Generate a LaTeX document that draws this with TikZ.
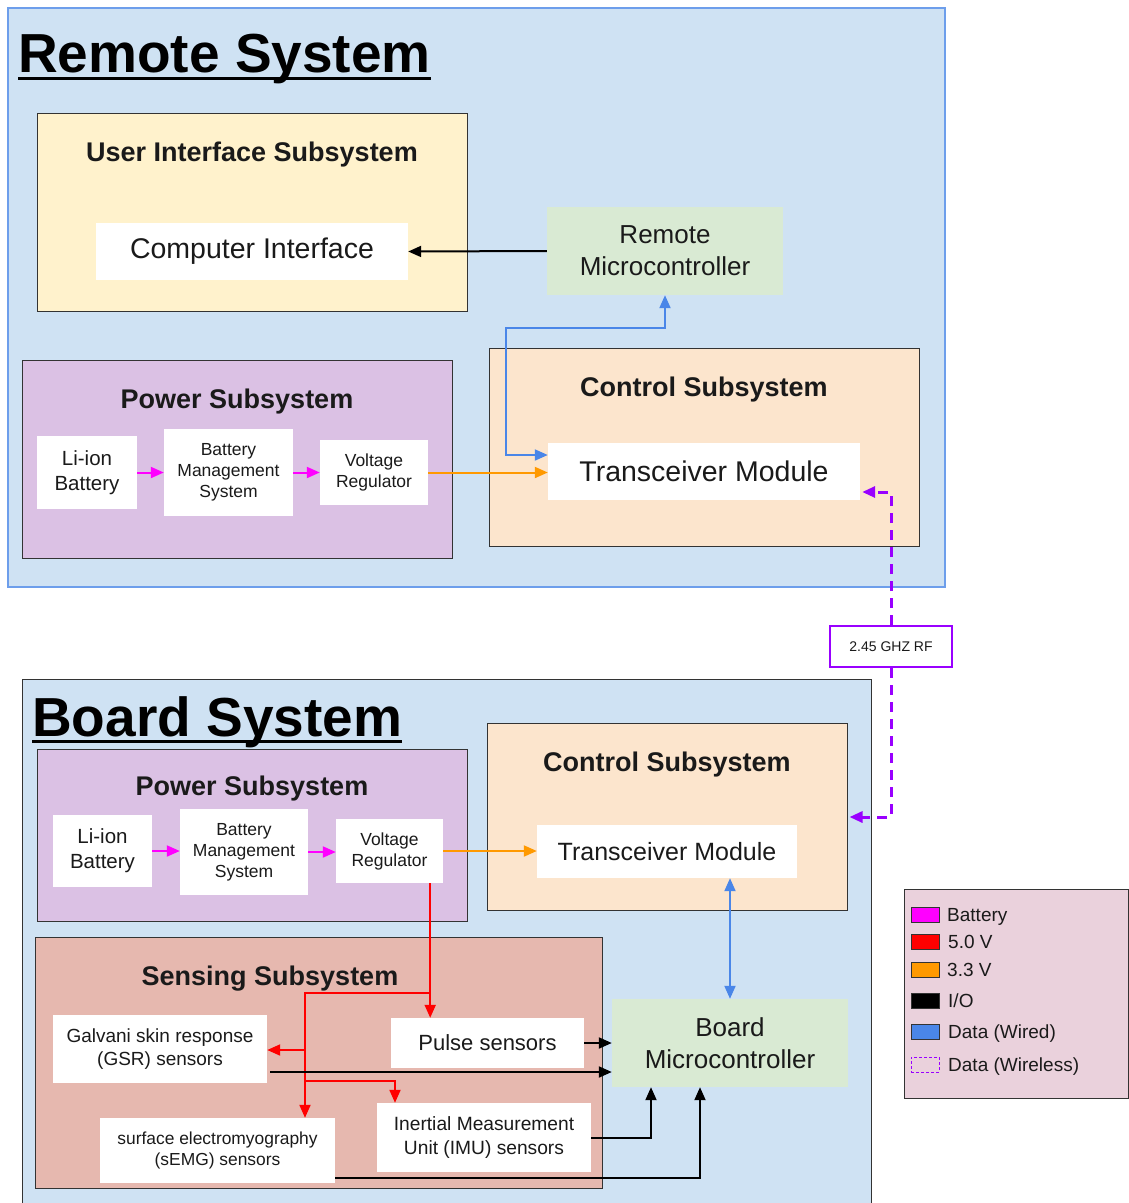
\documentclass[tikz,border=0pt]{standalone}
\usepackage{fontspec}
\setmainfont{Liberation Sans}
\usetikzlibrary{arrows.meta,calc}
\newcommand\myfs[2]{\fontsize{#1}{#2}\selectfont}
\definecolor{sysblue}{HTML}{CFE2F3}
\definecolor{sysline}{HTML}{6D9EEB}
\definecolor{uifill}{HTML}{FFF2CC}
\definecolor{pwfill}{HTML}{DBC1E4}
\definecolor{ctfill}{HTML}{FCE5CD}
\definecolor{mcfill}{HTML}{D9EAD3}
\definecolor{snfill}{HTML}{E6B8AF}
\definecolor{lgfill}{HTML}{EAD1DC}
\definecolor{datac}{HTML}{4A86E8}
\definecolor{orangec}{HTML}{FF9900}
\definecolor{pinkc}{HTML}{FF00FF}
\definecolor{redc}{HTML}{FF0000}
\definecolor{purpc}{HTML}{9900FF}
\definecolor{boxline}{HTML}{333333}
\definecolor{txt}{HTML}{1A1A1A}
\begin{document}
\begin{tikzpicture}[x=1pt,y=-1pt,
  cont/.style={draw=boxline, line width=1pt, inner sep=0pt, rectangle},
  wbox/.style={fill=white, inner sep=0pt, align=center, text=txt},
  title/.style={anchor=base, inner sep=0pt, text=txt, font=\bfseries\myfs{27}{32}},
  big/.style={anchor=base west, inner sep=0pt, text=black, font=\bfseries\myfs{55}{60}},
  tip/.style={-{Triangle[length=13pt,width=11pt]}},
  tips/.style={{Triangle[length=13pt,width=11pt]}-{Triangle[length=13pt,width=11pt]}},
  io/.style={line width=2pt, draw=black, tip},
  pw/.style={line width=2pt, draw=pinkc, tip},
  v33/.style={line width=2pt, draw=orangec, tip},
  v50/.style={line width=2pt, draw=redc, tip},
  wired/.style={line width=2pt, draw=datac, tips},
  wl/.style={line width=3pt, draw=purpc, dash pattern=on 10pt off 7pt, tip},
  sw/.style={draw=boxline, line width=1pt, minimum width=28pt, minimum height=15pt, inner sep=0pt},
  lgt/.style={anchor=base west, inner sep=0pt, text=txt, font=\myfs{19}{22}}
]
\useasboundingbox (0,0) rectangle (1129,1203);
\fill[white] (0,0) rectangle (1129,1203);

% ---------------- Remote system ----------------
\node[cont, draw=sysline, line width=1.5pt, fill=sysblue, minimum width=937pt, minimum height=579pt] (remote) at (476.5,297.5) {};
\node[big] (rtitle) at (18,72) {Remote System};
\draw[line width=3pt] ($(rtitle.base west)+(0,6)$) -- ($(rtitle.base east)+(0,6)$);

\node[cont, fill=uifill, minimum width=430pt, minimum height=198pt] (ui) at (252,212) {};
\node[title] (uit) at (252,161.5) {User Interface Subsystem};
\node[wbox, minimum width=312pt, minimum height=57pt, font=\myfs{28.5}{32}] (ci) at (252,251.5) {Computer Interface};
\node[fill=mcfill, inner sep=0pt, align=center, text=txt, minimum width=236pt, minimum height=88pt, font=\myfs{26}{32}] (rmc) at (665,251) {Remote\\Microcontroller};

\node[cont, fill=pwfill, minimum width=430pt, minimum height=198pt] (pwr) at (237,459) {};
\node[title] (pwrt) at (237,408.5) {Power Subsystem};
\node[wbox, minimum width=100pt, minimum height=73pt, font=\myfs{20.5}{25}] (lir) at (87,472.5) {Li-ion\\Battery};
\node[wbox, minimum width=129pt, minimum height=87pt, font=\myfs{17.5}{21}] (bmsr) at (228.5,472.5) {Battery\\Management\\System};
\node[wbox, minimum width=108pt, minimum height=65pt, font=\myfs{17.5}{21}] (vrr) at (374,472.5) {Voltage\\Regulator};

\node[cont, fill=ctfill, minimum width=430pt, minimum height=198pt] (ctrlr) at (704,447) {};
\node[title] (ctrlrt) at (704,396.5) {Control Subsystem};
\node[wbox, minimum width=312pt, minimum height=57pt, font=\myfs{28.5}{32}] (trr) at (704,471.5) {Transceiver Module};

\draw[io] (rmc.west) -- (ci.east);
\draw[pw] (lir.east) -- (lir.east -| bmsr.west);
\draw[pw] (bmsr.east) -- (bmsr.east -| vrr.west);
\draw[v33] (vrr.east) -- (vrr.east -| trr.west);
\coordinate (rb1) at (506,328);
\draw[wired] (rmc.south) |- (rb1) |- ($(trr.west)+(0,-16.5)$);

% ---------------- RF link ----------------
\node[draw=purpc, line width=2pt, fill=white, inner sep=0pt, minimum width=122pt, minimum height=41pt, font=\myfs{14}{16}, text=txt] (rf) at (891,646.5) {2.45 GHZ RF};

% ---------------- Board system ----------------
\node[cont, fill=sysblue, minimum width=849pt, minimum height=532pt] (board) at (446.5,945) {};
\node[big] (btitle) at (32,736) {Board System};
\draw[line width=3pt] ($(btitle.base west)+(0,5)$) -- ($(btitle.base east)+(0,5)$);

\node[cont, fill=pwfill, minimum width=430pt, minimum height=172pt] (pwb) at (252,835) {};
\node[title] (pwbt) at (252,795.5) {Power Subsystem};
\node[wbox, minimum width=99pt, minimum height=72pt, font=\myfs{20.5}{25}] (lib) at (102.5,851) {Li-ion\\Battery};
\node[wbox, minimum width=128pt, minimum height=86pt, font=\myfs{17.5}{21}] (bmsb) at (244,852) {Battery\\Management\\System};
\node[wbox, minimum width=107pt, minimum height=64pt, font=\myfs{17.5}{21}] (vrb) at (389.5,851) {Voltage\\Regulator};

\node[cont, fill=ctfill, minimum width=360pt, minimum height=187pt] (ctrlb) at (667,816.5) {};
\node[title] (ctrlbt) at (667,771.5) {Control Subsystem};
\node[wbox, minimum width=260pt, minimum height=53pt, font=\myfs{25}{30}] (trb) at (667,851.5) {Transceiver Module};

\node[fill=mcfill, inner sep=0pt, align=center, text=txt, minimum width=236pt, minimum height=88pt, font=\myfs{26}{32}] (bmc) at (730,1043) {Board\\Microcontroller};

\node[cont, fill=snfill, minimum width=567pt, minimum height=251pt] (sens) at (318.5,1062.5) {};
\node[title] (senst) at (270,985.5) {Sensing Subsystem};
\node[wbox, minimum width=214pt, minimum height=68pt, font=\myfs{19}{23}] (gsr) at (160,1049) {Galvani skin response\\(GSR) sensors};
\node[wbox, minimum width=193pt, minimum height=50pt, font=\myfs{22}{24}] (pulse) at (487.5,1043) {Pulse sensors};
\node[wbox, minimum width=235pt, minimum height=65pt, font=\myfs{17.4}{21}] (semg) at (217.5,1150.5) {surface electromyography\\(sEMG) sensors};
\node[wbox, minimum width=214pt, minimum height=69pt, font=\myfs{19.2}{24}] (imu) at (484,1137.5) {Inertial Measurement\\Unit (IMU) sensors};

\draw[pw] (lib.east) -- (lib.east -| bmsb.west);
\draw[pw] (bmsb.east) -- (bmsb.east -| vrb.west);
\draw[v33] (vrb.east) -- (vrb.east -| trb.west);
\draw[wired] (bmc.north |- trb.south) -- (bmc.north);

% 5.0 V distribution
\coordinate (r0) at ($(vrb.south east)+(-13,0)$);
\coordinate (rj1) at (430,993);
\coordinate (rj2) at (305,993);
\coordinate (rj3) at (305,1050);
\coordinate (rj4) at (305,1081);
\coordinate (rj5) at (395,1081);
\draw[v50] (r0) -- (r0 |- pulse.north);
\draw[v50] (rj1) -- (rj2) -- (rj2 |- semg.north);
\draw[v50] (rj3) -- (rj3 -| gsr.east);
\draw[v50] (rj4) -- (rj5) -- (rj5 |- imu.north);

% I/O to board microcontroller
\coordinate (ioA) at (651,1137.5);
\coordinate (ioB) at (700,1178);
\draw[io] (pulse.east) -- (pulse.east -| bmc.west);
\draw[io] ($(gsr.east)+(3,23)$) -- ($(gsr.east -| bmc.west)+(0,23)$);
\draw[io] (imu.east) -- (ioA) -- (ioA |- bmc.south);
\draw[io] ($(semg.east)+(0,27.5)$) -- (ioB) -- (ioB |- bmc.south);

% wireless link
\draw[wl] (rf.north) |- ($(trr.east)+(2,20.5)$);
\draw[wl] (rf.south) |- ($(ctrlb.east)+(2,0.5)$);

% ---------------- Legend ----------------
\node[cont, fill=lgfill, minimum width=224pt, minimum height=209pt] (legend) at (1016,993.5) {};
\node[sw, fill=pinkc] (s1) at (925,914.5) {};
\node[sw, fill=redc] (s2) at (925,941.5) {};
\node[sw, fill=orangec] (s3) at (925,970) {};
\node[sw, fill=black] (s4) at (925,1001) {};
\node[sw, fill=datac] (s5) at (925,1032) {};
\node[sw, draw=purpc, dash pattern=on 3pt off 2pt] (s6) at (925,1064.5) {};
\node[lgt] (l1) at (947,921) {Battery};
\node[lgt] (l2) at (948,948) {5.0 V};
\node[lgt] (l3) at (947,976.5) {3.3 V};
\node[lgt] (l4) at (948,1007.5) {I/O};
\node[lgt] (l5) at (948,1038.5) {Data (Wired)};
\node[lgt] (l6) at (948,1071) {Data (Wireless)};
\end{tikzpicture}
\end{document}
